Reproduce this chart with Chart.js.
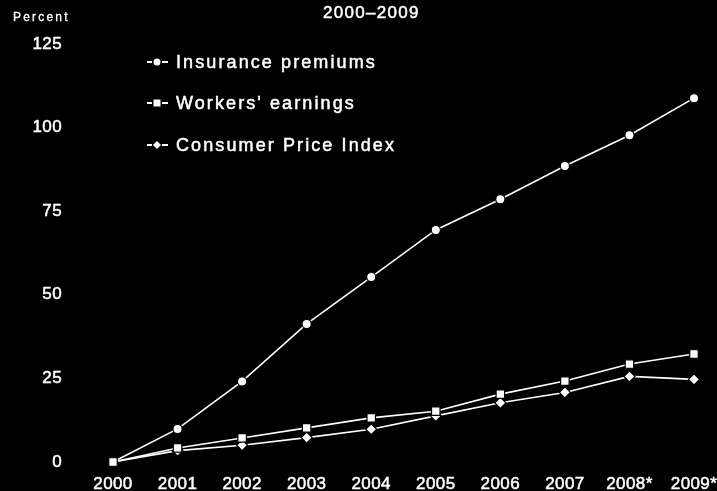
<!DOCTYPE html>
<html>
<head>
<script src="https://cdn.jsdelivr.net/npm/chart.js"></script>
<style>
  html, body { margin: 0; padding: 0; background: #000; }
  #wrap { width: 717px; height: 491px; }
</style>
</head>
<body>
<div id="wrap"><canvas id="growth"></canvas></div>
<script>
// cumulative percent change since 2000
const years = ['2000', '2001', '2002', '2003', '2004', '2005', '2006', '2007', '2008*', '2009*'];
const premiums = [0, 9.9, 24.1, 41.3, 55.3, 69.4, 78.6, 88.5, 97.7, 108.8];
const earnings = [0, 4.2, 7.2, 10.2, 13.2, 15.2, 20.3, 24.2, 29.3, 32.3];
const cpi = [0, 3.4, 5.0, 7.3, 9.8, 13.8, 17.7, 20.8, 25.6, 24.7];
const yTicks = [0, 25, 50, 75, 100, 125];

const FONT = "'Liberation Sans', Arial, sans-serif";

// wider tracking for the axis labels
const tracking = {
  id: 'tracking',
  beforeDraw(chart) { chart.ctx.letterSpacing = '0.4px'; }
};

// filled text with a thin outline so it reads a little heavier
function heavyText(c, text, x, y) {
  c.fillText(text, x, y);
  c.strokeText(text, x, y);
}

// title, "Percent" caption and the in-plot legend
const decorations = {
  id: 'decorations',
  afterDraw(chart) {
    const c = chart.ctx;
    c.save();
    c.fillStyle = '#fff';
    c.strokeStyle = '#fff';
    c.textBaseline = 'middle';
    c.textAlign = 'left';
    c.lineWidth = 0.5;
    c.font = '17px ' + FONT;
    c.letterSpacing = '1.3px';
    heavyText(c, '2000\u20132009', 323, 13);
    c.font = '12px ' + FONT;
    c.letterSpacing = '2.2px';
    c.lineWidth = 0.3;
    heavyText(c, 'Percent', 13, 18);

    c.font = '18px ' + FONT;
    c.letterSpacing = '2.1px';
    const rows = [62, 103, 145];
    chart.data.datasets.forEach((ds) => {
      const y = rows[ds.legendRow];
      const mx = 157;
      c.lineWidth = 2;
      c.beginPath();
      c.moveTo(147, y); c.lineTo(152, y);
      c.moveTo(162, y); c.lineTo(168, y);
      c.stroke();
      c.beginPath();
      if (ds.pointStyle === 'circle') {
        c.arc(mx, y, 3.5, 0, Math.PI * 2);
      } else if (ds.pointStyle === 'rect') {
        c.rect(mx - 3.5, y - 3.5, 7, 7);
      } else {
        c.moveTo(mx, y - 4); c.lineTo(mx + 4, y); c.lineTo(mx, y + 4); c.lineTo(mx - 4, y);
        c.closePath();
      }
      c.fill();
      c.lineWidth = 0.5;
      heavyText(c, ds.label, 176, y + 1);
    });
    c.restore();
  }
};

function series(label, data, style, radius, order, legendRow) {
  return {
    label, data, order, legendRow,
    clip: false,
    borderColor: '#fff',
    borderWidth: 1.6,
    pointStyle: style,
    pointRadius: radius,
    pointBackgroundColor: '#fff',
    pointBorderColor: '#000',
    pointBorderWidth: 1.2,
    tension: 0
  };
}

const tickStyle = {
  color: '#fff',
  font: { family: FONT, size: 17 },
  textStrokeColor: '#fff',
  textStrokeWidth: 0.5,
  padding: 0
};

new Chart(document.getElementById('growth'), {
  type: 'line',
  data: {
    labels: years,
    datasets: [
      series('Insurance premiums', premiums, 'circle', 4.6, 2, 0),
      series('Workers\' earnings', earnings, 'rect', 6, 0, 1),
      series('Consumer Price Index', cpi, 'rectRot', 5.5, 1, 2)
    ]
  },
  options: {
    responsive: true,
    maintainAspectRatio: false,
    animation: false,
    layout: { padding: { top: 44, right: 23, left: 0, bottom: 0 } },
    plugins: { legend: { display: false }, tooltip: { enabled: false } },
    scales: {
      x: {
        offset: false,
        grid: { display: false, drawTicks: true, tickLength: 12, tickColor: 'rgba(0,0,0,0)' },
        border: { display: false },
        ticks: { ...tickStyle, maxRotation: 0 },
        afterFit(scale) { scale.height = 29; }
      },
      y: {
        min: 0,
        max: 125,
        afterBuildTicks(scale) { scale.ticks = yTicks.map(v => ({ value: v })); },
        grid: { display: false, drawTicks: true, tickLength: 51, tickColor: 'rgba(0,0,0,0)' },
        border: { display: false },
        ticks: tickStyle,
        afterFit(scale) { scale.width = 113; }
      }
    }
  },
  plugins: [tracking, decorations]
});
</script>
</body>
</html>
